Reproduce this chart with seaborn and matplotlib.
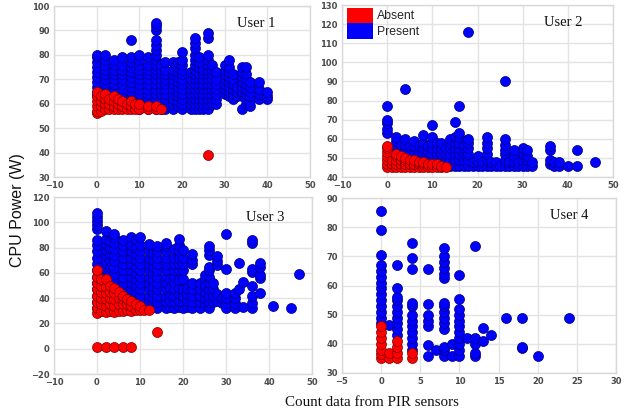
import matplotlib
matplotlib.use("Agg")
import matplotlib.pyplot as plt
from matplotlib.patches import Patch
import seaborn as sns
import pandas as pd

# ---- data: CPU power (W) readings grouped by PIR count, per user ----
u1_present = {
    0: [63, 65, 67, 69, 71, 73, 75, 77, 79, 80],
    2: [60, 62, 64, 66, 68, 70, 72, 74, 76, 78, 80],
    4: [60, 62, 64, 66, 68, 70, 72, 74, 76, 78],
    6: [60, 62, 64, 66, 68, 70, 72, 74, 76, 79],
    8: [59, 61, 63, 65, 67, 69, 71, 73, 75, 77, 79, 86],
    10: [58, 60, 62, 64, 66, 68, 70, 72, 74, 76, 78, 80],
    12: [58, 60, 62, 64, 66, 68, 70, 72, 74, 76, 79],
    14: [58, 60, 62, 64, 66, 68, 70, 72, 74, 76, 78, 80, 82, 84, 86, 90, 92, 93],
    15: [58, 60, 62, 64, 66, 68, 70, 72, 74, 76],
    16: [58, 60, 62, 64, 66, 68, 70, 72, 74, 77],
    18: [58, 60, 62, 64, 66, 68, 70, 72, 74, 77],
    19: [59, 61, 63, 65, 67, 69, 71, 73, 75, 77],
    20: [58, 60, 62, 64, 66, 68, 70, 72, 74, 76, 78, 81],
    22: [58, 60, 62, 64, 66, 68, 70, 73],
    23: [58, 60, 62, 64, 66, 68, 70, 72, 74, 76, 78, 80, 83, 85, 87],
    24: [58, 60, 62, 64, 66, 68, 70, 72, 75, 77, 79],
    25: [58, 60, 62, 64, 66, 68, 70, 72, 74],
    26: [58, 60, 62, 64, 66, 68, 70, 72, 74, 76, 78, 80, 87, 89],
    27: [60, 62, 64, 66, 68, 70, 72, 74, 76],
    28: [60, 62, 64, 66, 68, 70, 73],
    30: [64, 66, 68, 70, 72, 74, 76],
    31: [63, 65, 67, 69, 71, 73, 75, 78],
    32: [62, 64, 66, 68, 70, 72],
    33: [63, 65, 67],
    34: [58, 63, 65, 67, 69, 71, 73, 75],
    35: [60, 62, 64, 66, 68, 70, 72, 75],
    36: [59, 61, 63, 65, 67, 69],
    38: [62, 64, 66, 69],
    40: [62, 63, 65],
}
u1_absent = {
    0: [56, 57, 59, 61, 63, 65],
    1: [57, 59, 61, 63],
    2: [58, 60, 62, 64],
    3: [58, 60, 62],
    4: [58, 59, 61, 63],
    5: [58, 60, 62],
    6: [58, 59, 61],
    7: [58, 60],
    8: [58, 59, 61],
    9: [58, 60],
    10: [58, 60],
    12: [58, 59],
    14: [58, 59],
    15: [58],
    26: [39],
}

u2_present = {
    0: [63, 65, 68, 70, 77],
    2: [48, 51, 54, 57, 59, 61],
    3: [48, 51, 54, 57],
    4: [48, 51, 54, 57, 60, 86],
    5: [47, 50, 53, 56],
    6: [47, 50, 53, 56, 59],
    7: [47, 50, 53, 56],
    8: [46, 49, 52, 55, 58, 62],
    9: [47, 50, 53, 56],
    10: [46, 49, 52, 55, 58, 61, 67],
    11: [46, 49, 52, 55, 58],
    12: [46, 49, 52, 55, 58],
    13: [46, 49, 52, 55],
    14: [46, 49, 52, 55, 58, 60],
    15: [46, 49, 52, 55, 58, 61, 69],
    16: [46, 49, 52, 55, 58, 61, 63, 77],
    17: [46, 49, 52, 55, 57],
    18: [46, 49, 52, 55, 58, 60, 116],
    19: [46, 48],
    20: [46, 48, 51],
    21: [46, 48],
    22: [46, 49, 52, 55, 58, 61],
    23: [46, 48],
    24: [46, 48],
    25: [46],
    26: [46, 49, 52, 54, 57, 60, 90],
    27: [46, 48],
    28: [46, 48, 51, 54],
    29: [46, 48],
    30: [46, 49, 52, 55],
    31: [46, 49, 51, 54],
    32: [46, 48],
    36: [47, 49, 54, 56],
    37: [46, 48],
    38: [46, 48],
    40: [46],
    42: [46, 54],
    46: [48],
}
u2_absent = {
    0: [45, 47, 49, 51, 53, 55, 56],
    1: [45, 47, 49],
    2: [45, 47, 49, 51, 52],
    3: [45, 47, 49, 51],
    4: [45, 47, 49, 50],
    5: [45, 47, 49],
    6: [45, 47, 49],
    7: [45, 47, 48],
    8: [45, 47, 48],
    9: [45, 47],
    10: [45, 47],
    11: [45, 47],
    12: [45, 46],
    13: [45],
}

u3_present = {
    0: [32, 37, 42, 47, 52, 57, 62, 67, 72, 77, 82, 86, 95, 98, 101, 104, 107],
    2: [33, 38, 43, 48, 53, 58, 63, 68, 73, 78, 83, 87, 93],
    3: [35, 40, 45, 50, 55, 60, 65, 70, 75, 80, 85],
    4: [34, 39, 44, 49, 54, 59, 64, 69, 74, 79, 84, 88, 91],
    6: [32, 37, 42, 47, 52, 57, 62, 67, 72, 77, 82, 86],
    8: [32, 37, 42, 47, 52, 57, 62, 67, 72, 77, 82, 88],
    9: [35, 40, 45, 50, 55, 60, 65, 70, 75, 80, 86],
    10: [32, 37, 42, 47, 52, 57, 62, 67, 72, 77, 82, 88],
    12: [32, 37, 42, 47, 52, 57, 62, 67, 72, 77, 83],
    13: [35, 40, 45, 50, 55, 60, 65, 70, 76],
    14: [32, 37, 42, 47, 52, 57, 62, 67, 72, 77, 81],
    16: [32, 37, 42, 47, 52, 57, 62, 67, 72, 77, 81, 84],
    17: [33, 38, 43, 48, 55],
    18: [32, 37, 42, 47, 52, 57, 62, 67, 72, 79],
    19: [33, 38, 43, 48, 54, 62, 67, 72, 77, 82, 87],
    20: [32, 37, 42, 47, 55, 62, 67, 72, 78],
    21: [33, 38, 43, 48],
    22: [32, 37, 42, 47, 52, 67, 70, 75],
    24: [32, 37, 42, 47, 52],
    25: [35, 40, 45, 50, 55, 58],
    26: [32, 37, 42, 47, 52, 57, 62, 65, 74, 78, 81],
    27: [37, 42, 47, 52],
    28: [38, 43, 66, 69, 73],
    29: [36, 40],
    30: [32, 36, 40, 44, 63, 91],
    32: [32, 36, 40, 44],
    33: [47, 68],
    34: [33, 53],
    36: [32, 36, 42, 50, 61, 63, 84, 86],
    38: [44, 56, 58, 65, 68],
    41: [34],
    45: [32],
    47: [59],
}
u3_absent = {
    0: [1, 28, 32, 37, 42, 47, 52, 57, 62],
    1: [30, 35, 40, 45, 50, 55],
    2: [1, 29, 34, 39, 44, 49, 55],
    3: [30, 35, 40, 45, 50],
    4: [1, 29, 34, 39, 44, 48],
    5: [30, 35, 40, 45],
    6: [1, 30, 35, 39, 42],
    7: [31, 35, 39],
    8: [1, 30, 34, 38],
    9: [31, 35],
    10: [31, 34],
    11: [31],
    12: [31],
    14: [13],
}

u4_present = {
    0: [47, 49, 51, 53, 55, 57, 59, 61, 63, 65, 67, 70.5, 79, 85.5],
    1: [46.5],
    2: [43, 45, 47, 49, 51, 53, 55, 56, 59, 67],
    4: [38, 40, 42, 44, 46, 48, 50, 53, 54, 65.5, 69.5, 74.5],
    6: [36, 39.5, 46, 48, 50, 53.5, 65.5],
    7: [38],
    8: [36, 38, 39, 45, 47, 49, 51, 53, 54, 62.5, 64, 66, 68, 70, 73],
    9: [36, 40],
    10: [36, 38, 40, 42, 44, 46, 48, 50, 52, 55.5, 63.5],
    11: [42],
    12: [36, 37, 40, 42, 73.5],
    13: [41, 45.5],
    14: [43],
    16: [49],
    18: [38.5, 39, 49],
    20: [36],
    24: [49],
}
u4_absent = {
    0: [35, 36.5, 38, 40, 42, 44, 46],
    1: [35, 37],
    2: [35, 37, 39, 41],
    4: [35, 37],
}

user_names = ["User 1", "User 2", "User 3", "User 4"]
x_limits = [(-10, 50), (-10, 50), (-10, 50), (-5, 30)]
y_limits = [(30, 100), (40, 130), (-20, 120), (30, 90)]
x_steps = [10, 10, 10, 5]
y_steps = [10, 10, 20, 10]
status_colors = {"Present": "#0000ff", "Absent": "#ff0000"}
edge_colors = {"Present": "#00007a", "Absent": "#7a0000"}


def build_frame(present, absent):
    rows = []
    for status, groups in (("Present", present), ("Absent", absent)):
        for count, powers in groups.items():
            for p in powers:
                rows.append({"count": count, "power": p, "status": status})
    return pd.DataFrame(rows)


frames = [
    build_frame(u1_present, u1_absent),
    build_frame(u2_present, u2_absent),
    build_frame(u3_present, u3_absent),
    build_frame(u4_present, u4_absent),
]

sns.set_theme(style="whitegrid")
plt.rcParams.update({
    "axes.edgecolor": "#d9d9d9",
    "axes.linewidth": 1.0,
    "grid.color": "#e3e3e3",
    "grid.linewidth": 1.0,
    "xtick.color": "#4a4a4a",
    "ytick.color": "#4a4a4a",
})

W, H = 631, 418
fig = plt.figure(figsize=(W / 100, H / 100), dpi=100)

# panel rectangles in pixels: left, top, right, bottom
rects_px = [(54, 6, 310, 177), (342, 5, 613, 177),
            (54, 197, 312, 374), (342, 198, 616, 373)]
label_pos = [(0.79, 0.895), (0.815, 0.90), (0.82, 0.887), (0.83, 0.90)]

axes = []
for i, (l, t, r, b) in enumerate(rects_px):
    ax = fig.add_axes([l / W, 1 - b / H, (r - l) / W, (b - t) / H])
    df = frames[i]
    for status in ("Present", "Absent"):
        sub = df[df["status"] == status]
        sns.scatterplot(data=sub, x="count", y="power", ax=ax,
                        color=status_colors[status],
                        edgecolor=edge_colors[status], linewidth=0.5,
                        s=52, legend=False, zorder=3)
    x0, x1 = x_limits[i]
    y0, y1 = y_limits[i]
    ax.set_xlim(x0, x1)
    ax.set_ylim(y0, y1)
    ax.set_xticks(list(range(x0, x1 + 1, x_steps[i])))
    ax.set_yticks(list(range(y0, y1 + 1, y_steps[i])))
    ax.set_xlabel("")
    ax.set_ylabel("")
    ax.tick_params(axis="both", length=0, labelsize=6, pad=3)
    for lab in ax.get_xticklabels() + ax.get_yticklabels():
        lab.set_fontweight("bold")
    ax.text(label_pos[i][0], label_pos[i][1], user_names[i],
            transform=ax.transAxes, ha="center", va="center",
            fontsize=10.5, family="Liberation Serif", color="#111111")
    axes.append(ax)

handles = [Patch(facecolor="#ff0000", edgecolor="none", label="Absent"),
           Patch(facecolor="#0000ff", edgecolor="none", label="Present")]
leg = axes[1].legend(handles=handles, loc="upper left",
                     bbox_to_anchor=(0.02, 0.985), frameon=False,
                     prop={"family": "Liberation Sans", "size": 8.8},
                     handlelength=2.1, handleheight=1.6, labelspacing=0.0,
                     handletextpad=0.35, borderpad=0.0, borderaxespad=0.0)

fig.text(18 / W, 1 - 210 / H, "CPU Power (W)", rotation=90,
         ha="center", va="center", fontsize=11.5, family="Liberation Sans",
         color="#111111")
fig.text(372 / W, 1 - 402 / H, "Count data from PIR sensors",
         ha="center", va="center", fontsize=10.8, family="Liberation Serif",
         color="#111111")

fig.savefig("out.png", dpi=100)
